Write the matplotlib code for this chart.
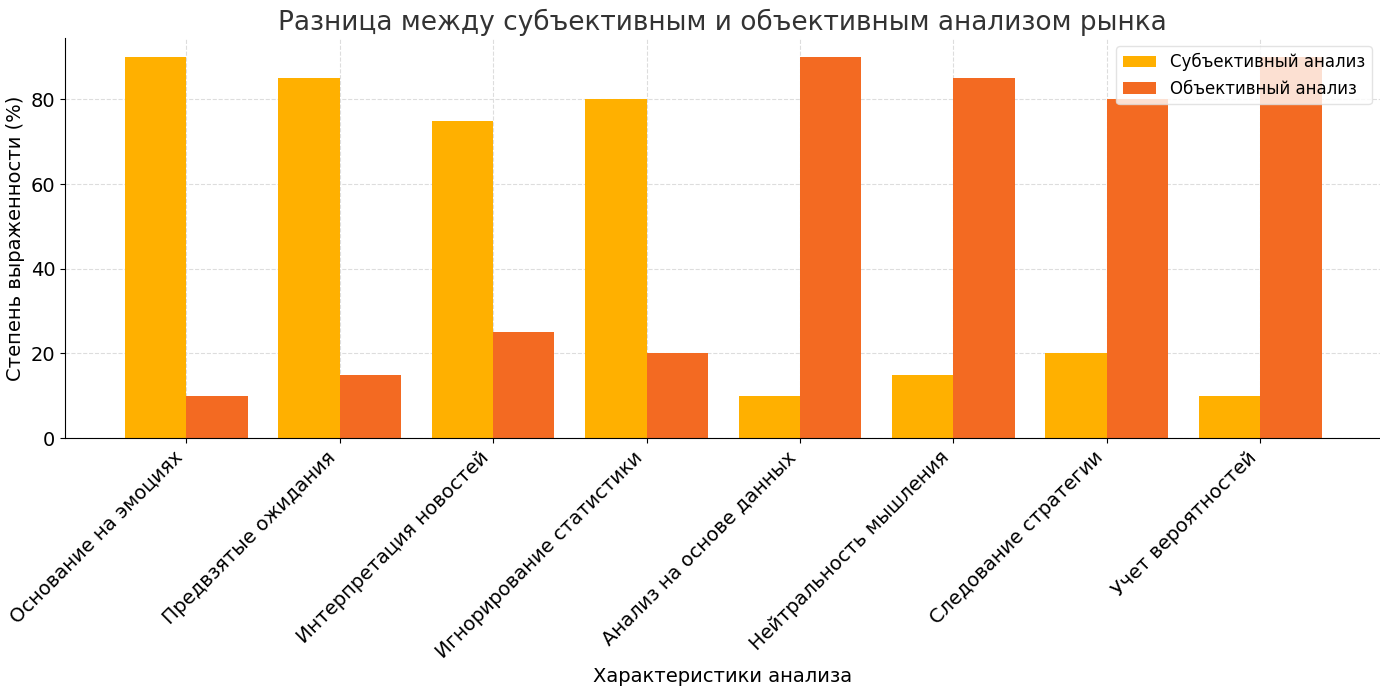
import matplotlib
matplotlib.use("Agg")
import matplotlib.pyplot as plt
import numpy as np

categories = ["Основание на эмоциях", "Предвзятые ожидания", "Интерпретация новостей",
              "Игнорирование статистики", "Анализ на основе данных", "Нейтральность мышления",
              "Следование стратегии", "Учет вероятностей"]
subjective = [90, 85, 75, 80, 10, 15, 20, 10]
objective = [10, 15, 25, 20, 90, 85, 80, 90]

fig = plt.figure(figsize=(13.8, 6.93), dpi=100)
ax = fig.add_axes([65/1380, 1-438/693, 1315/1380, 400/693])
x = np.arange(len(categories))
w = 0.4
ax.bar(x - w/2, subjective, w, color="#FFB000", label="Субъективный анализ", zorder=2)
ax.bar(x + w/2, objective, w, color="#F36A22", label="Объективный анализ", zorder=2)
ax.set_xticks(x)
ax.set_xticklabels(categories, rotation=45, ha="right", fontsize=14)
ax.tick_params(axis="y", labelsize=14)
ax.set_ylim(0, 94.5)
ax.set_xlim(-0.79, 7.78)
ax.grid(True, linestyle="--", color="#dddddd", zorder=0)
ax.set_axisbelow(True)
for s in ["top", "right"]:
    ax.spines[s].set_visible(False)
ax.set_title("Разница между субъективным и объективным анализом рынка", fontsize=19, color="#333333")
ax.set_xlabel("Характеристики анализа", fontsize=14)
ax.set_ylabel("Степень выраженности (%)", fontsize=14)
leg = ax.legend(loc="upper right", fontsize=12)
leg.get_frame().set_edgecolor("#dddddd")
fig.savefig("out.png", dpi=100)
